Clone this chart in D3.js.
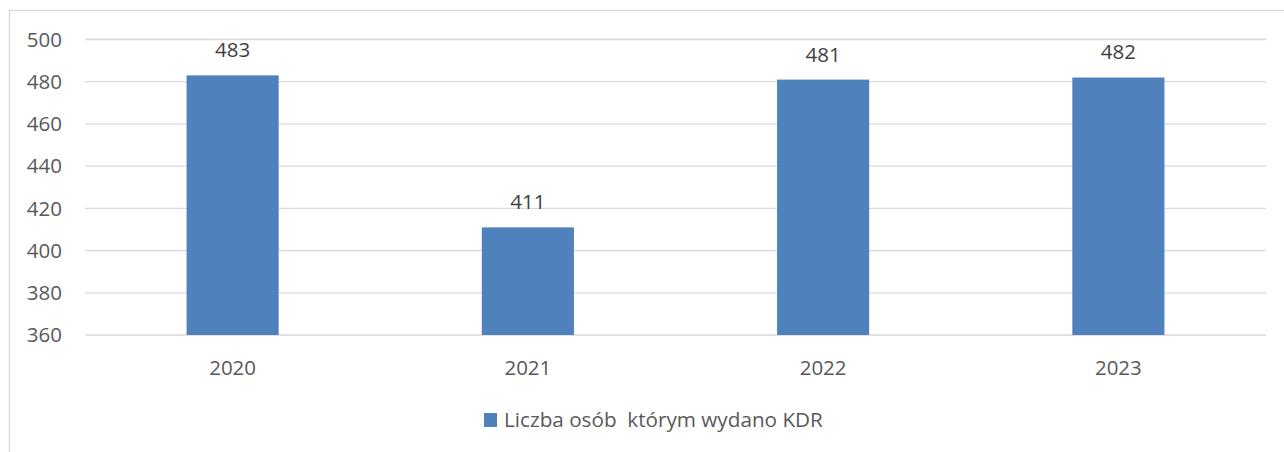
<!DOCTYPE html>
<html>
<head>
<meta charset="utf-8">
<script src="https://cdn.jsdelivr.net/npm/d3@7"></script>
<style>
  body { margin: 0; background: #fff; }
  svg { display: block; font-family: "Open Sans", sans-serif; }
</style>
</head>
<body>
<svg class="main" width="1284" height="452"></svg>
<script>
var YEARS = ["2020", "2021", "2022", "2023"];
var VALUES = [483, 411, 481, 482];
var Y_TICKS = [360, 380, 400, 420, 440, 460, 480, 500];
var SERIES_NAME = "Liczba osób  którym wydano KDR";
var BAR_COLOR = "#4f81bd";

function main() {
  var svg = d3.select("svg.main");

  // chart frame (only top and left edges visible)
  svg.append("rect")
    .attr("x", 9.5).attr("y", 10.5)
    .attr("width", 1300).attr("height", 480)
    .attr("fill", "none")
    .attr("stroke", "#d9d9d9")
    .attr("stroke-width", 1.3);

  var x = d3.scaleBand()
    .domain(YEARS)
    .range([85, 1266])
    .paddingInner(0.688)
    .paddingOuter(0.344);

  var y = d3.scaleLinear()
    .domain([360, 500])
    .range([335, 39.5]);

  // gridlines
  svg.append("g").selectAll("line")
    .data(Y_TICKS)
    .join("line")
    .attr("x1", 85).attr("x2", 1266)
    .attr("y1", function(d) { return y(d); })
    .attr("y2", function(d) { return y(d); })
    .attr("stroke", "#d9d9d9")
    .attr("stroke-width", 1.3);

  // y tick labels
  svg.append("g").selectAll("text")
    .data(Y_TICKS)
    .join("text")
    .attr("x", 62)
    .attr("y", function(d) { return y(d); })
    .attr("dy", "0.35em")
    .attr("text-anchor", "end")
    .attr("font-size", 20.5)
    .attr("fill", "#595959")
    .text(function(d) { return d; });

  // bars
  svg.append("g").selectAll("rect")
    .data(VALUES)
    .join("rect")
    .attr("x", function(d, i) { return x(YEARS[i]); })
    .attr("width", x.bandwidth())
    .attr("y", function(d) { return y(d); })
    .attr("height", function(d) { return y(360) - y(d); })
    .attr("fill", BAR_COLOR);

  // data labels
  svg.append("g").selectAll("text")
    .data(VALUES)
    .join("text")
    .attr("x", function(d, i) { return x(YEARS[i]) + x.bandwidth() / 2; })
    .attr("y", function(d) { return y(d) - 18; })
    .attr("text-anchor", "middle")
    .attr("font-size", 20.5)
    .attr("fill", "#404040")
    .text(function(d) { return d; });

  // x labels
  svg.append("g").selectAll("text")
    .data(YEARS)
    .join("text")
    .attr("x", function(d) { return x(d) + x.bandwidth() / 2; })
    .attr("y", 375)
    .attr("text-anchor", "middle")
    .attr("font-size", 20.5)
    .attr("fill", "#595959")
    .text(function(d) { return d; });

  // legend
  var legend = svg.append("g");
  legend.append("rect")
    .attr("x", 484).attr("y", 413)
    .attr("width", 13).attr("height", 14)
    .attr("fill", BAR_COLOR);
  legend.append("text")
    .attr("x", 504).attr("y", 427)
    .attr("font-size", 20.7)
    .attr("fill", "#595959")
    .attr("xml:space", "preserve")
    .style("white-space", "pre")
    .text(SERIES_NAME);
}

main();
</script>
</body>
</html>
